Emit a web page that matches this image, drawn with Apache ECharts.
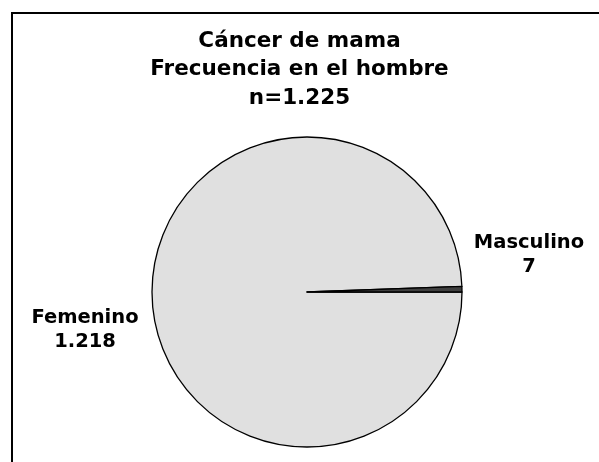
<!DOCTYPE html>
<html>
<head>
<meta charset="utf-8">
<script src="https://cdn.jsdelivr.net/npm/echarts@6/dist/echarts.min.js"></script>
<style>
  html, body { margin: 0; padding: 0; background: #fff; }
  #chart { width: 599px; height: 462px; }
</style>
</head>
<body>
<div id="chart"></div>
<script>
const categories = ["Femenino", "Masculino"];
const counts = [1218, 7];
const countLabels = ["1.218", "7"];
const titleLines = ["Cáncer de mama", "Frecuencia en el hombre", "n=1.225"];

// where each label block sits (pixels)
const labelSpots = [[85, 330], [529, 255]];

const chart = echarts.init(document.getElementById("chart"), null, { renderer: "canvas" });

chart.setOption({
  animation: false,
  backgroundColor: "#fff",
  title: {
    text: titleLines.join("\n"),
    left: "center",
    top: 27,
    padding: 0,
    textStyle: {
      fontFamily: "DejaVu Sans",
      fontWeight: "bold",
      fontSize: 21.5,
      lineHeight: 28.5,
      color: "#000",
    },
  },
  graphic: [
    {
      type: "rect",
      shape: { x: 12, y: 13, width: 620, height: 480 },
      style: { fill: null, stroke: "#000", lineWidth: 2 },
      silent: true,
    },
  ],
  series: [
    {
      type: "pie",
      center: [307, 292],
      radius: [0, 155],
      startAngle: 0,
      clockwise: true,
      silent: true,
      itemStyle: { borderColor: "#000", borderWidth: 1.3 },
      label: {
        show: true,
        position: "outside",
        overflow: "none",
        width: 200,
        fontFamily: "DejaVu Sans",
        fontWeight: "bold",
        fontSize: 19.5,
        lineHeight: 24,
        color: "#000",
        align: "center",
        formatter: (p) => p.name + "\n" + countLabels[p.dataIndex],
      },
      labelLine: { show: false },
      labelLayout: (params) => ({
        x: labelSpots[params.dataIndex][0],
        y: labelSpots[params.dataIndex][1],
        align: "center",
        verticalAlign: "middle",
      }),
      data: categories.map((name, i) => ({
        name,
        value: counts[i],
        itemStyle: { color: i === 0 ? "#e0e0e0" : "#404040" },
      })),
    },
  ],
});
</script>
</body>
</html>
